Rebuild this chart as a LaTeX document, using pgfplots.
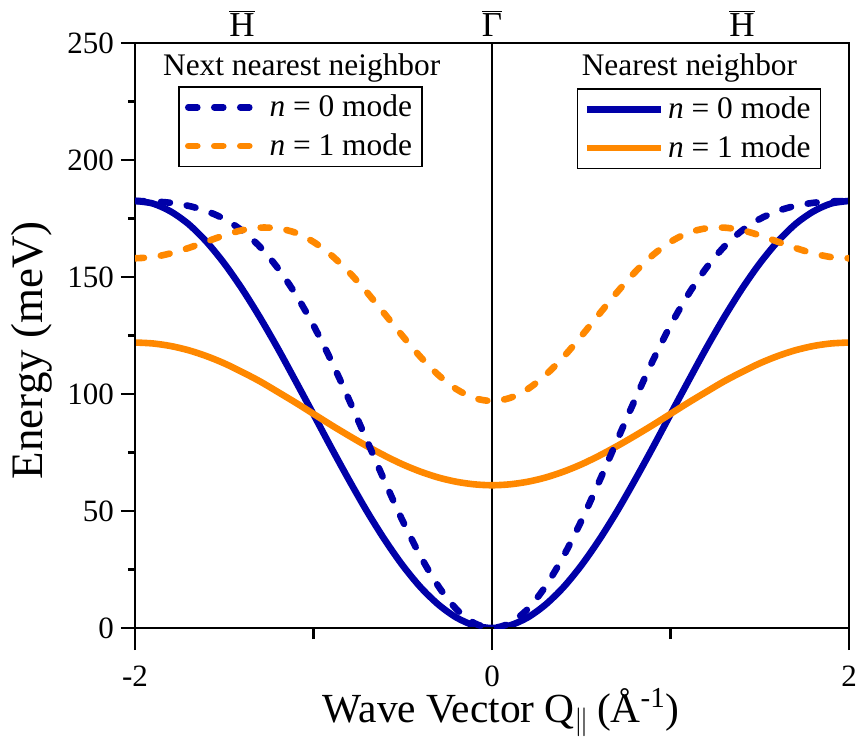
\documentclass[border=0pt]{standalone}
\usepackage{fontspec}
\setmainfont{Liberation Serif}
\usepackage{pgfplots}
\pgfplotsset{compat=1.18}
\usepackage{pgfplotstable}
\usetikzlibrary{calc}

\definecolor{modeblue}{RGB}{0,0,168}
\definecolor{modeorange}{RGB}{255,136,0}

% Surface phonon dispersion along Gamma-H
% q: wave vector (1/A); nn*: nearest-neighbour model, nnn*: next-nearest-neighbour model
\pgfplotstableread{
q     nn0    nn1    nnn0   nnn1
-2.0  182.5  122.0  182.5  158.0
-1.9  181.4  121.6  182.3  158.5
-1.8  178.0  120.5  181.7  160.1
-1.7  172.6  118.7  180.4  162.4
-1.6  165.1  116.2  178.2  165.1
-1.5  155.8  113.1  174.8  167.8
-1.4  144.9  109.4  169.8  170.0
-1.3  132.7  105.4  162.9  171.1
-1.2  119.5  100.9  153.8  170.8
-1.1  105.5   96.3  142.6  168.9
-1.0   91.3   91.5  129.3  165.0
-0.9   77.0   86.7  114.1  159.3
-0.8   63.1   82.1   97.4  152.0
-0.7   49.8   77.7   80.0  143.4
-0.6   37.6   73.6   62.5  134.1
-0.5   26.7   69.9   45.7  124.7
-0.4   17.4   66.8   30.6  115.8
-0.3   10.0   64.3   17.8  108.1
-0.2    4.5   62.5    8.1  102.1
-0.1    1.1   61.4    2.1   98.3
 0.0    0.0   61.0    0.0   97.0
 0.1    1.1   61.4    2.1   98.3
 0.2    4.5   62.5    8.1  102.1
 0.3   10.0   64.3   17.8  108.1
 0.4   17.4   66.8   30.6  115.8
 0.5   26.7   69.9   45.7  124.7
 0.6   37.6   73.6   62.5  134.1
 0.7   49.8   77.7   80.0  143.4
 0.8   63.1   82.1   97.4  152.0
 0.9   77.0   86.7  114.1  159.3
 1.0   91.3   91.5  129.3  165.0
 1.1  105.5   96.3  142.6  168.9
 1.2  119.5  100.9  153.8  170.8
 1.3  132.7  105.4  162.9  171.1
 1.4  144.9  109.4  169.8  170.0
 1.5  155.8  113.1  174.8  167.8
 1.6  165.1  116.2  178.2  165.1
 1.7  172.6  118.7  180.4  162.4
 1.8  178.0  120.5  181.7  160.1
 1.9  181.4  121.6  182.3  158.5
 2.0  182.5  122.0  182.5  158.0
}\dispersion

\pgfplotsset{
  dispframe/.style={
    scale only axis, width=357pt, height=292.5pt,
    xmin=-2, xmax=2, ymin=0, ymax=250,
    axis line style={line width=1.3pt},
    tick align=outside, tick pos=left,
    every tick/.style={black, line width=1.3pt},
    legend cell align=left,
    legend image code/.code={\draw[##1] (0pt,0pt) -- (37pt,0pt);},
  },
  displeg/.style={
    draw=black, line width=0.85pt, anchor=north,
    font=\fontsize{15.7}{18}\selectfont,
    inner xsep=3pt, inner ysep=2pt, row sep=3pt,
  },
  modeline/.style={line width=3.3pt, smooth},
  modedash/.style={line width=3.3pt, smooth, line cap=round, dash pattern=on 4.5pt off 8.5pt},
}

\begin{document}
\begin{tikzpicture}
% nearest-neighbour model, energy axis
\begin{axis}[
  dispframe, name=ax,
  xtick=\empty,
  ytick={0,50,...,250}, minor ytick={25,75,...,225},
  major tick length=7pt, minor tick length=3.5pt,
  /pgf/number format/assume math mode=true,
  yticklabel style={font=\fontsize{15.5}{18}\selectfont},
  ylabel={Energy (meV)},
  ylabel style={font=\fontsize{22.5}{26}\selectfont, at={(rel axis cs:-0.1289,0.475)}, anchor=base},
  legend style={displeg, at={(0.790,0.923)}},
]
\addplot[black, line width=1.3pt, forget plot] coordinates {(0,0) (0,250)};
\addplot[modeblue, modeline] table[x=q, y=nn0] {\dispersion};
\addlegendentry{\textit{n} = 0 mode}
\addplot[modeorange, modeline] table[x=q, y=nn1] {\dispersion};
\addlegendentry{\textit{n} = 1 mode}
\end{axis}

% next-nearest-neighbour model, wave-vector axis
\begin{axis}[
  dispframe,
  ytick=\empty,
  xtick={-2,0,2}, xticklabels={,,}, minor xtick={-1,1},
  major tick length=11pt, minor tick length=5.5pt,
  xlabel={Wave Vector Q\textsubscript{$\|$}\,(Å\textsuperscript{-1})},
  xlabel style={font=\fontsize{20.7}{24}\selectfont, inner sep=1pt, at={(rel axis cs:0.513,-0.161)}, anchor=base},
  legend style={displeg, at={(0.2318,0.9265)}},
  extra description/.code={
    \foreach \pos/\lab in {0/-2, 0.5/0, 1/2}
      \node[anchor=base, inner sep=1pt, font=\fontsize{15.5}{18}\selectfont, yshift=-29pt] at (\pos,0) {\lab};
    \node[anchor=base, font=\fontsize{17.5}{20}\selectfont, yshift=3pt] at (0.15,1) {$\overline{\hbox{H}}$};
    \node[anchor=base, font=\fontsize{17.5}{20}\selectfont, yshift=3pt] at (0.5,1) {$\overline{\hbox{Γ}}$};
    \node[anchor=base, font=\fontsize{17.5}{20}\selectfont, yshift=3pt] at (0.85,1) {$\overline{\hbox{H}}$};
    \node[anchor=base, font=\fontsize{15.7}{18}\selectfont] at (0.2335,0.945) {Next nearest neighbor};
    \node[anchor=base, font=\fontsize{15.7}{18}\selectfont] at (0.7766,0.945) {Nearest neighbor};
  },
]
\addplot[modeblue, modedash] table[x=q, y=nnn0] {\dispersion};
\addlegendentry{\textit{n} = 0 mode}
\addplot[modeorange, modedash] table[x=q, y=nnn1] {\dispersion};
\addlegendentry{\textit{n} = 1 mode}
\end{axis}

\pgfresetboundingbox
\path[use as bounding box] ($(ax.south west)+(-67.5pt,-58pt)$) rectangle ($(ax.north east)+(3.5pt,21.5pt)$);
\end{tikzpicture}
\end{document}
